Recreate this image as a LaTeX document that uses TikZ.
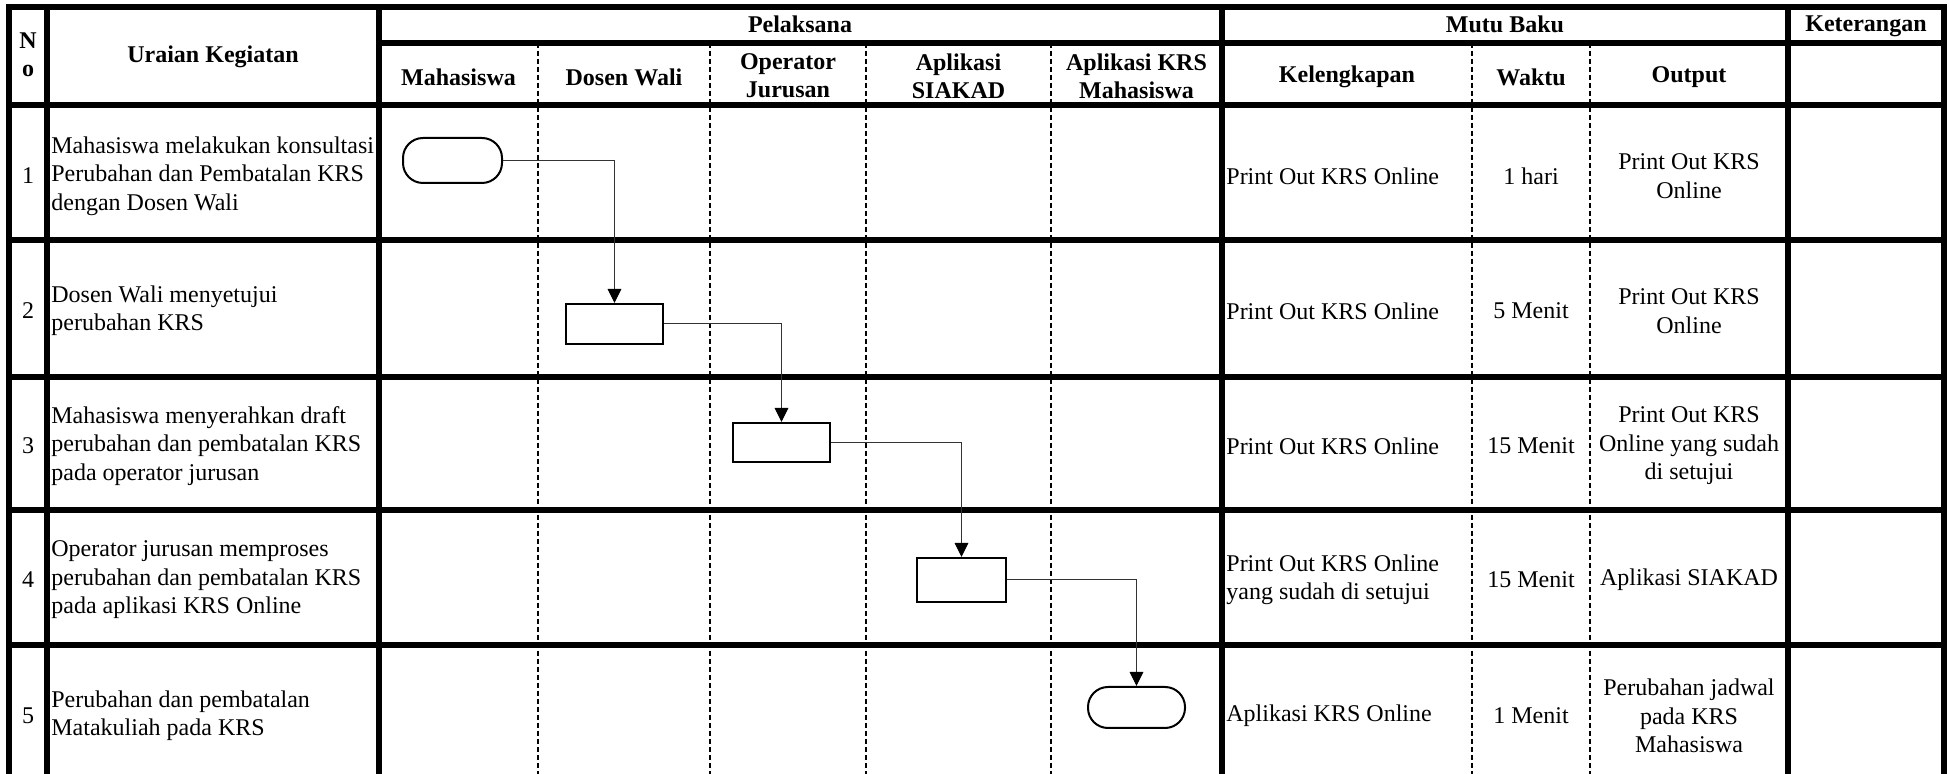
\documentclass[tikz,border=0pt]{standalone}
\usepackage{fontspec}
\setmainfont{Liberation Serif}
\usetikzlibrary{arrows.meta}
\begin{document}
\begin{tikzpicture}[x=0.5pt,y=-0.5pt,
  thickln/.style={line width=2.75pt, line cap=rect},
  dashln/.style={line width=0.75pt, dash pattern=on 2.5pt off 1.5pt},
  txt/.style={inner sep=0pt, font=\fontsize{12pt}{14.2pt}\selectfont, align=center},
  hdr/.style={inner sep=0pt, font=\fontsize{12pt}{14.2pt}\selectfont\bfseries, align=center},
  ltxt/.style={txt, align=left, anchor=west},
  proc/.style={draw, line width=1pt, inner sep=0pt, fill=white},
  term/.style={proc, rounded corners=10pt},
  conn/.style={line width=0.5pt, draw=black!80, -{Triangle[length=7pt,width=6.8pt,color=black]}}
]
\useasboundingbox (0,0) rectangle (1950,774);

% dashed lane separators
\foreach \x in {538,710,866,1051,1472,1590}
  \draw[dashln] (\x,43) -- (\x,774);

% thick grid
\foreach \x in {9,47,379,1222,1788,1944}
  \draw[thickln] (\x,7) -- (\x,780);
\draw[thickln] (9,7) -- (1944,7);
\draw[thickln] (379,43) -- (1944,43);
\foreach \y in {105,240,377,510,645}
  \draw[thickln] (9,\y) -- (1944,\y);

% header
\node[hdr] (hno) at (28,55) {N\\o};
\node[hdr] (hur) at (213,57) {Uraian Kegiatan};
\node[hdr] (hpel) at (800,24) {Pelaksana};
\node[hdr] (hmutu) at (1505,24) {Mutu Baku};
\node[hdr] (hket) at (1866,26) {Keterangan};
\node[hdr] (hmhs) at (458.5,77) {Mahasiswa};
\node[hdr] (hdw) at (624,77) {Dosen Wali};
\node[hdr] (hop) at (788,76) {Operator\\Jurusan};
\node[hdr] (hsia) at (958.5,76) {Aplikasi\\SIAKAD};
\node[hdr] (hkrs) at (1136.5,76) {Aplikasi KRS\\Mahasiswa};
\node[hdr] (hkel) at (1347,77) {Kelengkapan};
\node[hdr] (hwak) at (1531,77) {Waktu};
\node[hdr] (hout) at (1689,77) {Output};

% row 1
\node[txt] (n1) at (28,176) {1};
\node[ltxt] (u1) at (51,176) {Mahasiswa melakukan konsultasi\\Perubahan dan Pembatalan KRS\\dengan Dosen Wali};
\node[ltxt] (k1) at (1226,176) {Print Out KRS Online};
\node[txt] (w1) at (1531,176) {1 hari};
\node[txt] (o1) at (1689,176) {Print Out KRS\\Online};
% row 2
\node[txt] (n2) at (28,311) {2};
\node[ltxt] (u2) at (51,311) {Dosen Wali menyetujui\\perubahan KRS};
\node[ltxt] (k2) at (1226,311) {Print Out KRS Online};
\node[txt] (w2) at (1531,311) {5 Menit};
\node[txt] (o2) at (1689,311) {Print Out KRS\\Online};
% row 3
\node[txt] (n3) at (28,446) {3};
\node[ltxt] (u3) at (51,446) {Mahasiswa menyerahkan draft\\perubahan dan pembatalan KRS\\pada operator jurusan};
\node[ltxt] (k3) at (1226,446) {Print Out KRS Online};
\node[txt] (w3) at (1531,446) {15 Menit};
\node[txt] (o3) at (1689,446) {Print Out KRS\\Online yang sudah\\di setujui};
% row 4
\node[txt] (n4) at (28,580) {4};
\node[ltxt] (u4) at (51,580) {Operator jurusan memproses\\perubahan dan pembatalan KRS\\pada aplikasi KRS Online};
\node[ltxt] (k4) at (1226,580) {Print Out KRS Online\\yang sudah di setujui};
\node[txt] (w4) at (1531,580) {15 Menit};
\node[txt] (o4) at (1689,580) {Aplikasi SIAKAD};
% row 5
\node[txt] (n5) at (28,716) {5};
\node[ltxt] (u5) at (51,716) {Perubahan dan pembatalan\\Matakuliah pada KRS};
\node[ltxt] (k5) at (1226,716) {Aplikasi KRS Online};
\node[txt] (w5) at (1531,716) {1 Menit};
\node[txt] (o5) at (1689,716) {Perubahan jadwal\\pada KRS\\Mahasiswa};

% flow shapes
\node[term, minimum width=49.5pt, minimum height=22.5pt] (t1) at (452.5,160.5) {};
\node[proc, minimum width=48.5pt, minimum height=20pt] (b2) at (614.5,324) {};
\node[proc, minimum width=48.5pt, minimum height=19.5pt] (b3) at (781.5,442.5) {};
\node[proc, minimum width=44.5pt, minimum height=22pt] (b4) at (961.5,580) {};
\node[term, minimum width=48.5pt, minimum height=20.5pt] (t5) at (1136.5,707.5) {};

% connectors
\draw[conn] (t1.east) -| (b2.north);
\draw[conn] (b2.east) -| (b3.north);
\draw[conn] (b3.east) -| (b4.north);
\draw[conn] (b4.east) -| (t5.north);
\end{tikzpicture}
\end{document}
